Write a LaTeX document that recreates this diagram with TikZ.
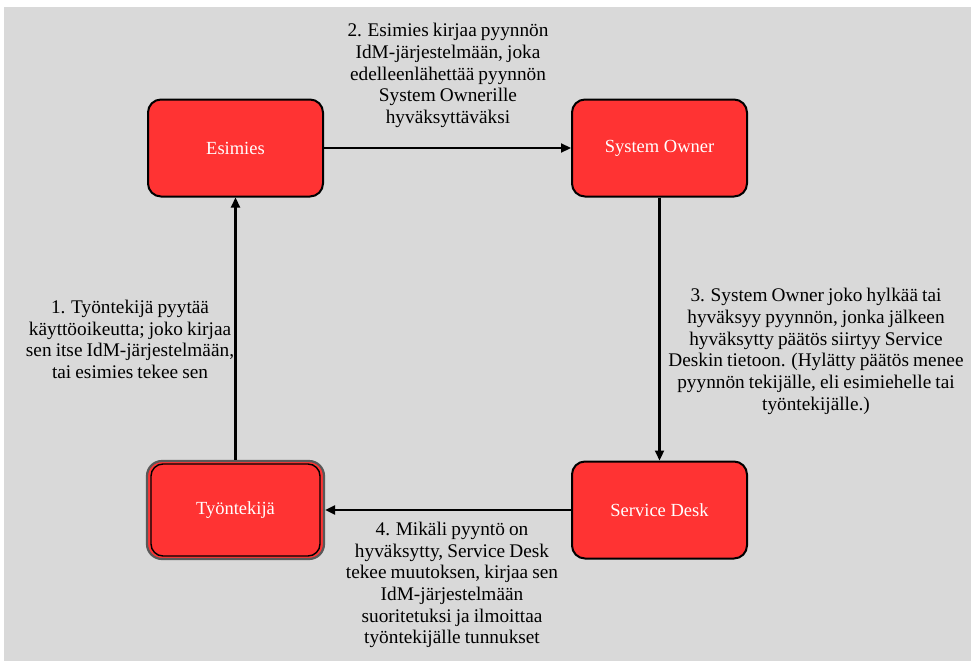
\documentclass[tikz,border=0pt]{standalone}
\usepackage{fontspec}
\setmainfont{Liberation Serif}
\newfontfamily\lblfont{Liberation Serif}[WordSpace=0.85]
\usetikzlibrary{arrows.meta}
\definecolor{bggray}{HTML}{D9D9D9}
\definecolor{boxred}{HTML}{FF3333}
\begin{document}
\begin{tikzpicture}[x=1pt,y=-1pt,
  procbox/.style={draw=black,line width=2pt,fill=boxred,rounded corners=13pt,
    minimum width=175pt,minimum height=97pt,inner sep=0pt,text=white,
    font=\fontsize{18.5}{22}\selectfont},
  lbl/.style={align=center,inner sep=0pt,font=\lblfont\fontsize{19.3}{21.7}\selectfont,text=black},
  flow/.style={line width=2.2pt,-{Triangle[length=10pt,width=9pt]}}]
\useasboundingbox (0,0) rectangle (971,661);
\fill[white] (0,0) rectangle (971,661);
\fill[bggray] (4,7) rectangle (971,661);
\node[procbox] (esi) at (235.5,148) {Esimies};
\node[procbox] (so) at (659.5,148) {System Owner};
\node[procbox] (sd) at (659.5,510) {Service Desk};
\node[procbox,draw=black!65,line width=2.2pt,minimum width=177pt,minimum height=98pt,rounded corners=15pt] (tyo) at (235.5,510) {};
\node[procbox,minimum width=169pt,minimum height=92pt,rounded corners=12pt,line width=1.4pt] (tyoin) at (235.5,510) {Työntekijä};
\draw[flow] (esi.east) -- (so.west);
\draw[flow] (so.south) -- (sd.north);
\draw[flow] (sd.west) -- (tyo.east);
\draw[flow] (tyo.north) -- (esi.south);
\node[lbl] (l2) at (448,75.5) {2. Esimies kirjaa pyynnön\\IdM-järjestelmään, joka\\edelleenlähettää pyynnön\\System Ownerille\\hyväksyttäväksi};
\node[lbl] (l1) at (130,339.5) {1. Työntekijä pyytää\\käyttöoikeutta; joko kirjaa\\sen itse IdM-järjestelmään,\\tai esimies tekee sen};
\node[lbl] (l3) at (816,351.5) {3. System Owner joko hylkää tai\\hyväksyy pyynnön, jonka jälkeen\\hyväksytty päätös siirtyy Service\\Deskin tietoon. (Hylätty päätös menee\\pyynnön tekijälle, eli esimiehelle tai\\työntekijälle.)};
\node[lbl] (l4) at (452,585) {4. Mikäli pyyntö on\\hyväksytty, Service Desk\\tekee muutoksen, kirjaa sen\\IdM-järjestelmään\\suoritetuksi ja ilmoittaa\\työntekijälle tunnukset};
\end{tikzpicture}
\end{document}
